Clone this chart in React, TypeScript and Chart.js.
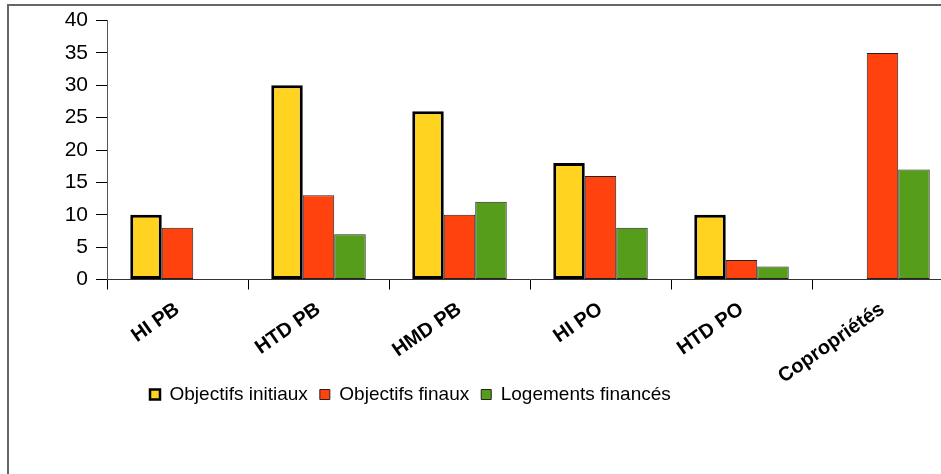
import React, { useEffect, useRef } from "react";
import { Chart, registerables } from "chart.js";

Chart.register(...registerables);

const categories = ["HI PB", "HTD PB", "HMD PB", "HI PO", "HTD PO", "Copropriétés"];
const objectifsInitiaux = [10, 30, 26, 18, 10, null];
const objectifsFinaux = [8, 13, 10, 16, 3, 35];
const logementsFinances = [null, 7, 12, 8, 2, 17];
const seriesNames = ["Objectifs initiaux", "Objectifs finaux", "Logements financés"];
const yMin = 0;
const yMax = 40;
const yStep = 5;

export default function App() {
  const ref = useRef<HTMLCanvasElement>(null);

  useEffect(() => {
    if (!ref.current) return;
    const legendPlace = {
      id: "legendPlace",
      afterLayout(chart: any) {
        const lg = chart.legend;
        if (!lg) return;
        const pad = lg.options.labels.padding;
        const h = lg.height;
        const w = lg.width;
        lg.left = 150 - pad;
        lg.right = lg.left + w;
        lg.top = 395 - pad - 10;
        lg.bottom = lg.top + h;
      },
    };
    const chart = new Chart(ref.current, {
      type: "bar",
      data: {
        labels: categories,
        datasets: [
          {
            label: seriesNames[0],
            data: objectifsInitiaux,
            backgroundColor: "#FFD320",
            borderColor: "#000000",
            borderWidth: 3,
            borderSkipped: false,
            categoryPercentage: 0.67,
            barPercentage: 1,
          },
          {
            label: seriesNames[1],
            data: objectifsFinaux,
            backgroundColor: "#FF420E",
            borderColor: "#222222",
            borderWidth: 1,
            borderSkipped: false,
            categoryPercentage: 0.67,
            barPercentage: 1,
          },
          {
            label: seriesNames[2],
            data: logementsFinances,
            backgroundColor: "#579D1C",
            borderColor: "#222222",
            borderWidth: 1,
            borderSkipped: false,
            categoryPercentage: 0.67,
            barPercentage: 1,
          },
        ],
      },
      options: {
        responsive: false,
        devicePixelRatio: 1,
        animation: false,
        layout: { padding: { top: 20, right: 47, left: 0, bottom: 0 } },
        plugins: {
          tooltip: { enabled: false },
          legend: {
            position: "bottom",
            align: "start",
            labels: {
              boxWidth: 10,
              boxHeight: 10,
              padding: 12,
              color: "#000",
              font: { family: "'Liberation Sans', Arial, sans-serif", size: 19 },
              generateLabels: (c: any) => {
                const items = (Chart.defaults.plugins.legend.labels as any).generateLabels(c);
                items.forEach((it: any, i: number) => {
                  it.lineWidth = i === 0 ? 2.5 : 1;
                  it.strokeStyle = i === 0 ? "#000" : "#222";
                });
                return items;
              },
            },
          },
        },
        scales: {
          x: {
            grid: {
              offset: true,
              drawOnChartArea: false,
              drawTicks: true,
              tickLength: 10,
              color: "#000",
            },
            border: { display: true, color: "#333", width: 1 },
            ticks: {
              autoSkip: false,
              minRotation: 35,
              maxRotation: 35,
              color: "#000",
              padding: 8,
              font: { family: "'Liberation Sans', Arial, sans-serif", size: 20, weight: "bold" },
            },
            afterFit: (s: any) => {
              const lh = s.chart.legend ? s.chart.legend.height : 0;
              s.height = 194.5 - lh;
            },
          },
          y: {
            min: yMin,
            max: yMax,
            ticks: {
              stepSize: yStep,
              color: "#000",
              padding: 8,
              font: { family: "'Liberation Sans', Arial, sans-serif", size: 21 },
            },
            grid: {
              drawOnChartArea: false,
              drawTicks: true,
              tickLength: 11,
              color: "#000",
            },
            border: { display: true, color: "#555", width: 1 },
            afterFit: (s: any) => {
              s.width = 107;
            },
          },
        },
      },
      plugins: [legendPlace],
    });
    return () => chart.destroy();
  }, []);

  return (
    <div
      style={{
        position: "fixed",
        left: 0,
        top: 0,
        width: 941,
        height: 474,
        overflow: "hidden",
        background: "#fff",
      }}
    >
      <div
        style={{
          position: "absolute",
          left: 7,
          top: 4,
          width: 2000,
          height: 2000,
          border: "2px solid #666",
          boxSizing: "border-box",
        }}
      />
      <canvas
        ref={ref}
        width={1000}
        height={474}
        style={{ position: "absolute", left: 0, top: 0, width: 1000, height: 474 }}
      />
    </div>
  );
}
